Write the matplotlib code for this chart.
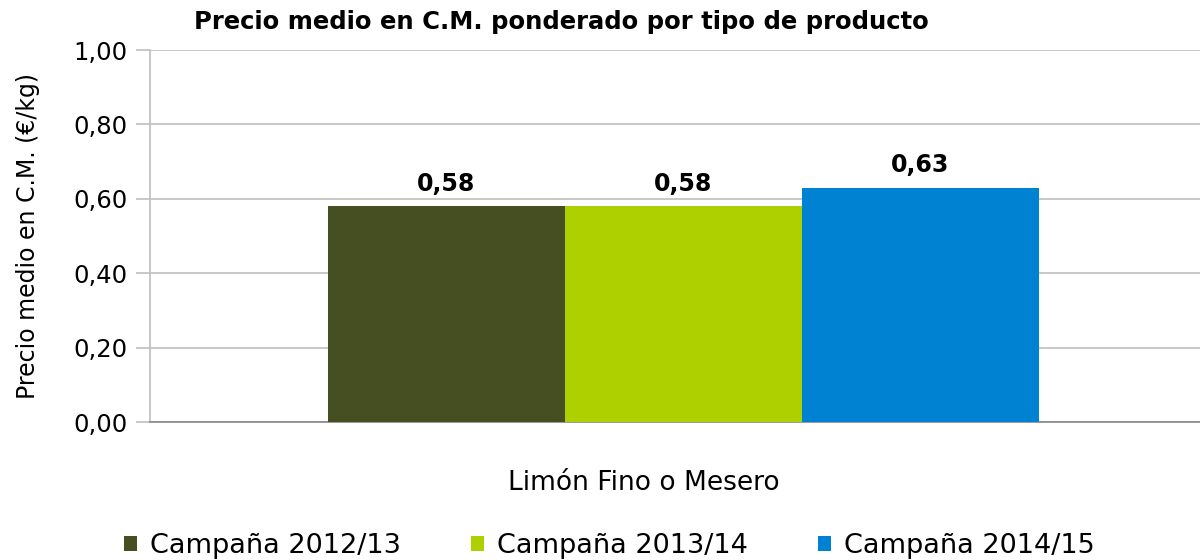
import matplotlib.pyplot as plt
from matplotlib.patches import Patch

# datos
categoria = "Limón Fino o Mesero"
campanas = ["Campaña 2012/13", "Campaña 2013/14", "Campaña 2014/15"]
precios = [0.58, 0.58, 0.63]
colores = ["#464F21", "#AFD000", "#0082D2"]
yticks = [0.0, 0.2, 0.4, 0.6, 0.8, 1.0]

plt.rcParams['font.family'] = ['DejaVu Sans']

fig = plt.figure(figsize=(12, 5.6), dpi=100)
ax = fig.add_axes([0.125, 0.2464, 0.875, 0.6643])

pos = [-1, 0, 1]
for p, v, c in zip(pos, precios, colores):
    ax.bar(p, v, width=1.0, color=c, zorder=3)
    ax.text(p, v + 0.028, f"{v:.2f}".replace(".", ","), ha="center", va="bottom",
            fontsize=17, fontweight="bold", zorder=4)

ax.set_xlim(-2.251, 2.181)
ax.set_ylim(0, 1.0)
ax.set_yticks(yticks)
ax.set_yticklabels([f"{t:.2f}".replace(".", ",") for t in yticks], fontsize=17.5)
ax.set_xticks([])
ax.grid(axis="y", color="#BFBFBF", linewidth=1.2, zorder=0)

for s in ["top", "right"]:
    ax.spines[s].set_visible(False)
ax.spines["left"].set_color("#BFBFBF")
ax.spines["left"].set_linewidth(1.2)
ax.spines["bottom"].set_color("#868686")
ax.spines["bottom"].set_linewidth(1.2)
ax.tick_params(axis="y", length=10, color="#BFBFBF", width=1.2, pad=6)

ax.set_ylabel("Precio medio en C.M. (€/kg)", fontsize=17)
ax.yaxis.set_label_coords(-0.105, 0.5)
ax.set_xlabel(categoria, fontsize=19)
ax.xaxis.set_label_coords(0.47, -0.13)

fig.text(0.468, 0.96, "Precio medio en C.M. ponderado por tipo de producto",
         ha="center", va="center", fontsize=17.5, fontweight="bold")

handles = [Patch(facecolor=c, label=l) for c, l in zip(colores, campanas)]
fig.legend(handles=handles, loc="center", bbox_to_anchor=(0.508, 0.025), ncol=3,
           frameon=False, fontsize=19.5, handlelength=0.45, handleheight=0.45,
           handletextpad=0.5, columnspacing=2.6)

fig.savefig("out.png", dpi=100)
